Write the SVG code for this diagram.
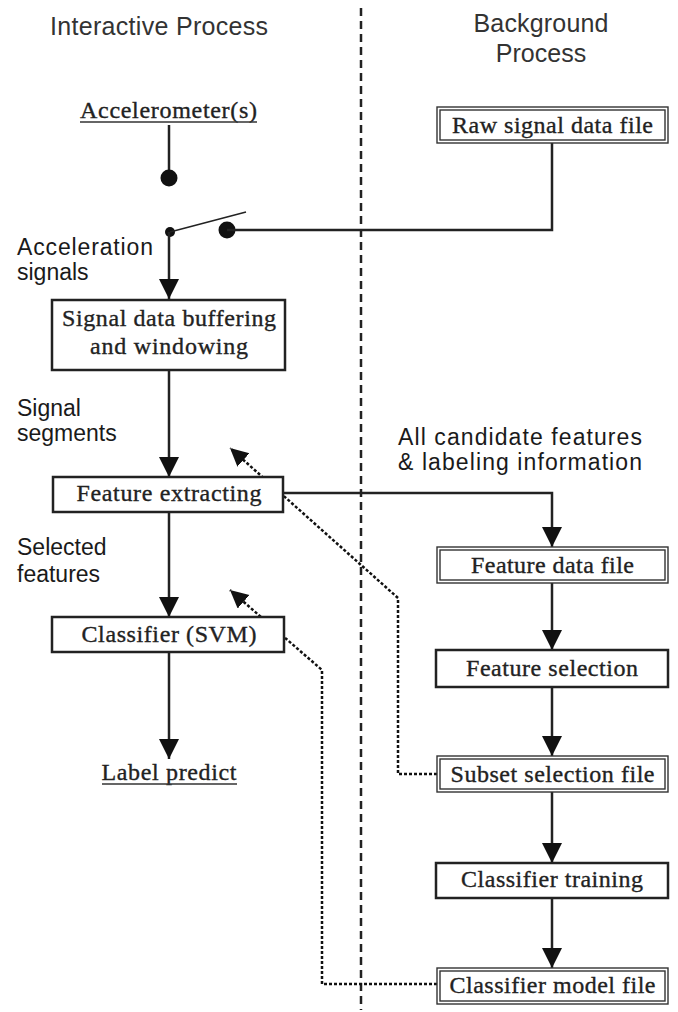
<svg xmlns="http://www.w3.org/2000/svg" width="678" height="1012" viewBox="0 0 678 1012">
<defs>
<style>
.title{font-family:"Liberation Sans",Arial,sans-serif;font-size:25px;fill:#333}
.lbl{font-family:"Liberation Sans",Arial,sans-serif;font-size:23px;fill:#1a1a1a}
.st{font-family:"Liberation Serif","Times New Roman",serif;font-size:24px;fill:#222;stroke:#222;stroke-width:0.35}
.box{fill:#fff;stroke:#222;stroke-width:2.5}
.dbl{fill:none;stroke:#333;stroke-width:1.4}
.conn{fill:none;stroke:#222;stroke-width:2.5}
.dot{fill:none;stroke:#111;stroke-width:2.5;stroke-dasharray:3 2}
.ul{stroke:#333;stroke-width:1.5}
</style>
<marker id="arr" markerUnits="userSpaceOnUse" markerWidth="22" markerHeight="22" refX="20" refY="10" orient="auto">
<path d="M0,0 L20,10 L0,20 z" fill="#111"/>
</marker>
<marker id="arrs" markerUnits="userSpaceOnUse" markerWidth="20" markerHeight="20" refX="18" refY="9" orient="auto">
<path d="M0,0 L18,9 L0,18 z" fill="#111"/>
</marker>
</defs>
<rect width="678" height="1012" fill="#fff"/>

<g id="divider">
<line x1="361" y1="8" x2="361" y2="1010" stroke="#222" stroke-width="2.5" stroke-dasharray="8 5"/>
</g>

<g id="titles">
<text class="title" x="159" y="35" text-anchor="middle" textLength="218">Interactive Process</text>
<text class="title" x="541" y="32" text-anchor="middle" textLength="135">Background</text>
<text class="title" x="541" y="62" text-anchor="middle">Process</text>
</g>

<g id="labels">
<text class="lbl" x="17" y="255" textLength="136">Acceleration</text>
<text class="lbl" x="17" y="280">signals</text>
<text class="lbl" x="17" y="416">Signal</text>
<text class="lbl" x="17" y="441">segments</text>
<text class="lbl" x="17" y="555">Selected</text>
<text class="lbl" x="17" y="582">features</text>
<text class="lbl" x="398" y="445" textLength="244">All candidate features</text>
<text class="lbl" x="398" y="470" textLength="244">&amp; labeling information</text>
</g>

<g id="connectors">
<line class="conn" x1="169" y1="125" x2="169" y2="178"/>
<circle cx="169" cy="178" r="8.5" fill="#111"/>
<circle cx="170" cy="232" r="5" fill="#111"/>
<line x1="170" y1="232" x2="246" y2="212" stroke="#222" stroke-width="1.5"/>
<circle cx="227" cy="230" r="8.5" fill="#111"/>
<polyline class="conn" points="227,230 552,230 552,143"/>
<line class="conn" x1="169" y1="232" x2="169" y2="299" marker-end="url(#arr)"/>
<line class="conn" x1="169" y1="370" x2="169" y2="477" marker-end="url(#arr)"/>
<line class="conn" x1="169" y1="512" x2="169" y2="617" marker-end="url(#arr)"/>
<line class="conn" x1="169" y1="652" x2="169" y2="759" marker-end="url(#arr)"/>
<polyline class="conn" points="283,493 552,493 552,547" marker-end="url(#arr)"/>
<line class="conn" x1="552" y1="583" x2="552" y2="650" marker-end="url(#arr)"/>
<line class="conn" x1="552" y1="687" x2="552" y2="756" marker-end="url(#arr)"/>
<line class="conn" x1="552" y1="792" x2="552" y2="863" marker-end="url(#arr)"/>
<line class="conn" x1="552" y1="898" x2="552" y2="968" marker-end="url(#arr)"/>
<polyline class="dot" points="437,774 398,774 398,598 230,448" marker-end="url(#arrs)"/>
<polyline class="dot" points="437,984 322,984 322,670 230,590" marker-end="url(#arrs)"/>
</g>

<g id="accelerometer">
<text class="st" x="168.5" y="118" text-anchor="middle" textLength="177">Accelerometer(s)</text>
<line class="ul" x1="80" y1="122" x2="257" y2="122"/>
</g>

<g id="raw-signal-file">
<rect class="dbl" x="437" y="107" width="231" height="36"/>
<rect class="dbl" x="440" y="110" width="225" height="30"/>
<text class="st" x="552.5" y="133" text-anchor="middle" textLength="201">Raw signal data file</text>
</g>

<g id="buffering">
<rect class="box" x="52" y="300" width="233" height="70"/>
<text class="st" x="169" y="326" text-anchor="middle" textLength="214">Signal data buffering</text>
<text class="st" x="169" y="354" text-anchor="middle" textLength="158">and windowing</text>
</g>

<g id="feature-extracting">
<rect class="box" x="53" y="477" width="230" height="35"/>
<text class="st" x="169" y="501" text-anchor="middle" textLength="185">Feature extracting</text>
</g>

<g id="classifier-svm">
<rect class="box" x="52" y="617" width="232" height="35"/>
<text class="st" x="169" y="642" text-anchor="middle" textLength="175">Classifier (SVM)</text>
</g>

<g id="label-predict">
<text class="st" x="169" y="780" text-anchor="middle" textLength="135">Label predict</text>
<line class="ul" x1="102" y1="784" x2="237" y2="784"/>
</g>

<g id="feature-data-file">
<rect class="dbl" x="437" y="547" width="231" height="36"/>
<rect class="dbl" x="440" y="550" width="225" height="30"/>
<text class="st" x="552.5" y="573" text-anchor="middle" textLength="163">Feature data file</text>
</g>

<g id="feature-selection">
<rect class="box" x="436" y="650" width="232" height="37"/>
<text class="st" x="552" y="676" text-anchor="middle" textLength="172">Feature selection</text>
</g>

<g id="subset-selection-file">
<rect class="dbl" x="437" y="756" width="231" height="36"/>
<rect class="dbl" x="440" y="759" width="225" height="30"/>
<text class="st" x="552.5" y="782" text-anchor="middle" textLength="204">Subset selection file</text>
</g>

<g id="classifier-training">
<rect class="box" x="436" y="863" width="232" height="35"/>
<text class="st" x="552" y="887" text-anchor="middle" textLength="182">Classifier training</text>
</g>

<g id="classifier-model-file">
<rect class="dbl" x="437" y="968" width="231" height="36"/>
<rect class="dbl" x="440" y="971" width="225" height="30"/>
<text class="st" x="552.5" y="993" text-anchor="middle" textLength="206">Classifier model file</text>
</g>
</svg>
